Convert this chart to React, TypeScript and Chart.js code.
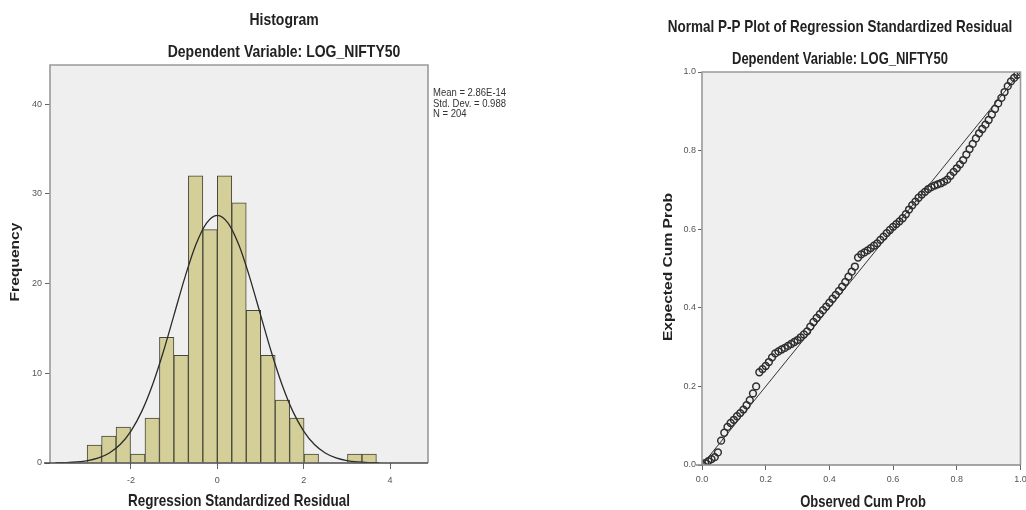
import React, { useEffect, useRef } from "react";
import { Chart, registerables } from "chart.js";

Chart.register(...registerables);

const FONT = "'Liberation Sans', Arial, sans-serif";

// ---------- Histogram data ----------
const BIN_CENTERS = [
  -2.8475, -2.5125, -2.1775, -1.8425, -1.5075, -1.1725, -0.8375, -0.5025, -0.1675,
  0.1675, 0.5025, 0.8375, 1.1725, 1.5075, 1.8425, 2.1775, 3.1825, 3.5175,
];
const BIN_COUNTS = [2, 3, 4, 1, 5, 14, 12, 32, 26, 32, 29, 17, 12, 7, 5, 1, 1, 1];

const CURVE_X = [
  -3.75, -3.5, -3.25, -3.0, -2.75, -2.5, -2.25, -2.0, -1.75, -1.5, -1.25, -1.0, -0.75, -0.5, -0.25,
  0, 0.25, 0.5, 0.75, 1.0, 1.25, 1.5, 1.75, 2.0, 2.25, 2.5, 2.75, 3.0, 3.25, 3.5, 3.75,
];
const CURVE_Y = [
  0.02, 0.05, 0.12, 0.27, 0.57, 1.12, 2.06, 3.56, 5.75, 8.72, 12.4, 16.54, 20.69, 24.28, 26.73,
  27.6, 26.73, 24.28, 20.69, 16.54, 12.4, 8.72, 5.75, 3.56, 2.06, 1.12, 0.57, 0.27, 0.12, 0.05, 0.02,
];

const HIST_X_TICKS = [-2, 0, 2, 4];
const HIST_Y_TICKS = [0, 10, 20, 30, 40];
const STATS_LINES = ["Mean = 2.86E-14", "Std. Dev. = 0.988", "N = 204"];

// ---------- P-P plot data ----------
const PP_OBSERVED = [
  0.0, 0.01, 0.02, 0.03, 0.04, 0.05, 0.06, 0.07, 0.08, 0.09,
  0.1, 0.11, 0.12, 0.13, 0.14, 0.15, 0.16, 0.17, 0.18, 0.19,
  0.2, 0.21, 0.22, 0.23, 0.24, 0.25, 0.26, 0.27, 0.28, 0.29,
  0.3, 0.31, 0.32, 0.33, 0.34, 0.35, 0.36, 0.37, 0.38, 0.39,
  0.4, 0.41, 0.42, 0.43, 0.44, 0.45, 0.46, 0.47, 0.48, 0.49,
  0.5, 0.51, 0.52, 0.53, 0.54, 0.55, 0.56, 0.57, 0.58, 0.59,
  0.6, 0.61, 0.62, 0.63, 0.64, 0.65, 0.66, 0.67, 0.68, 0.69,
  0.7, 0.71, 0.72, 0.73, 0.74, 0.75, 0.76, 0.77, 0.78, 0.79,
  0.8, 0.81, 0.82, 0.83, 0.84, 0.85, 0.86, 0.87, 0.88, 0.89,
  0.9, 0.91, 0.92, 0.93, 0.94, 0.95, 0.96, 0.97, 0.98, 0.99, 1.0,
];
const PP_EXPECTED = [
  0.0, 0.005, 0.01, 0.015, 0.02, 0.032, 0.062, 0.082, 0.097, 0.107,
  0.115, 0.124, 0.132, 0.141, 0.152, 0.165, 0.182, 0.2, 0.236, 0.244,
  0.252, 0.262, 0.274, 0.284, 0.289, 0.294, 0.298, 0.303, 0.308, 0.313,
  0.318, 0.325, 0.332, 0.34, 0.352, 0.364, 0.374, 0.384, 0.394, 0.403,
  0.413, 0.423, 0.433, 0.443, 0.454, 0.466, 0.479, 0.492, 0.505, 0.528,
  0.536, 0.541, 0.546, 0.552, 0.558, 0.564, 0.573, 0.581, 0.59, 0.598,
  0.606, 0.613, 0.62, 0.628, 0.638, 0.65, 0.661, 0.67, 0.68, 0.688,
  0.695, 0.702, 0.707, 0.711, 0.714, 0.717, 0.721, 0.726, 0.736, 0.746,
  0.755, 0.765, 0.776, 0.79, 0.804, 0.817, 0.831, 0.844, 0.855, 0.866,
  0.878, 0.892, 0.906, 0.92, 0.934, 0.949, 0.964, 0.976, 0.985, 0.993, 1.0,
];
const DIAG_X = [0, 1];
const DIAG_Y = [0, 1];
const PP_TICKS = [0, 0.2, 0.4, 0.6, 0.8, 1.0];

type TextItem = {
  text: string;
  x: number;
  y: number;
  size: number;
  bold?: boolean;
  align?: CanvasTextAlign;
  rotate?: boolean;
  color?: string;
};

const STRETCH = 1.2;

function makeDecor(items: TextItem[], bottomColor: string) {
  return {
    id: "decor",
    beforeDraw(chart: any) {
      const { ctx, chartArea } = chart;
      const { left, top, right, bottom } = chartArea;
      ctx.save();
      ctx.fillStyle = "#efefef";
      ctx.fillRect(left, top, right - left, bottom - top);
      ctx.restore();
    },
    afterDraw(chart: any) {
      const { ctx, chartArea } = chart;
      const { left, top, right, bottom } = chartArea;
      ctx.save();
      ctx.strokeStyle = "#9a9a9a";
      ctx.lineWidth = 1.6;
      ctx.beginPath();
      ctx.moveTo(left, bottom);
      ctx.lineTo(left, top);
      ctx.lineTo(right, top);
      ctx.lineTo(right, bottom);
      ctx.stroke();
      ctx.strokeStyle = bottomColor;
      ctx.beginPath();
      ctx.moveTo(left - 6, bottom);
      ctx.lineTo(right, bottom);
      ctx.stroke();
      for (const it of items) {
        ctx.save();
        ctx.font = `${it.bold ? "bold " : ""}${it.size}px ${FONT}`;
        ctx.fillStyle = it.color || "#222";
        ctx.textAlign = it.align || "center";
        ctx.textBaseline = "middle";
        ctx.translate(it.x, it.y);
        if (it.rotate) {
          ctx.rotate(-Math.PI / 2);
          ctx.scale(STRETCH, 1);
        } else {
          ctx.scale(1, STRETCH);
        }
        ctx.fillText(it.text, 0, 0);
        ctx.restore();
      }
      ctx.restore();
    },
  };
}

function HistogramChart() {
  const ref = useRef<HTMLCanvasElement>(null);
  useEffect(() => {
    if (!ref.current) return;
    const items: TextItem[] = [
      { text: "Histogram", x: 284, y: 20, size: 14, bold: true },
      { text: "Dependent Variable: LOG_NIFTY50", x: 284, y: 52, size: 14, bold: true },
      { text: "Regression Standardized Residual", x: 239, y: 502, size: 13.5, bold: true },
      { text: "Frequency", x: 15, y: 262, size: 13, bold: true, rotate: true },
      ...STATS_LINES.map((t, i) => ({
        text: t,
        x: 433,
        y: 93 + i * 10.5,
        size: 9.5,
        align: "left" as CanvasTextAlign,
        color: "#333",
      })),
    ];
    const chart = new Chart(ref.current, {
      type: "bar",
      data: {
        datasets: [
          {
            type: "line",
            data: CURVE_X.map((x, i) => ({ x, y: CURVE_Y[i] })),
            borderColor: "#2b2b2b",
            borderWidth: 1.3,
            pointRadius: 0,
            cubicInterpolationMode: "monotone",
            fill: false,
            order: 0,
          } as any,
          {
            type: "bar",
            data: BIN_CENTERS.map((x, i) => ({ x, y: BIN_COUNTS[i] })),
            backgroundColor: "#d4ce98",
            borderColor: "#46463a",
            borderWidth: 1,
            barPercentage: 1,
            categoryPercentage: 1,
            order: 1,
          } as any,
        ],
      },
      options: {
        animation: false,
        responsive: false,
        maintainAspectRatio: false,
        layout: { padding: { left: 0, top: 65, right: 132, bottom: 0 } },
        plugins: {
          legend: { display: false },
          tooltip: { enabled: false },
          title: { display: false },
        },
        scales: {
          x: {
            type: "linear",
            min: -3.875,
            max: 4.88,
            offset: false,
            afterBuildTicks: (s: any) => {
              s.ticks = HIST_X_TICKS.map((v) => ({ value: v }));
            },
            afterFit: (s: any) => {
              s.height = 47;
              s.paddingLeft = 0;
              s.paddingRight = 0;
            },
            grid: {
              display: true,
              drawOnChartArea: false,
              drawTicks: true,
              tickLength: 6,
              color: "#666",
              offset: false,
            },
            border: { display: false },
            ticks: {
              font: { family: FONT, size: 9 },
              color: "#555",
              padding: 6,
              maxRotation: 0,
              autoSkip: false,
              callback: (v: any) => String(v),
            },
          },
          y: {
            type: "linear",
            min: 0,
            max: 44.35,
            afterBuildTicks: (s: any) => {
              s.ticks = HIST_Y_TICKS.map((v) => ({ value: v }));
            },
            afterFit: (s: any) => {
              s.width = 50;
              s.paddingTop = 0;
              s.paddingBottom = 0;
            },
            grid: {
              display: true,
              drawOnChartArea: false,
              drawTicks: true,
              tickLength: 5,
              color: "#666",
            },
            border: { display: false },
            ticks: {
              font: { family: FONT, size: 9 },
              color: "#555",
              padding: 3,
              autoSkip: false,
              callback: (v: any) => String(v),
            },
          },
        },
      } as any,
      plugins: [makeDecor(items, "#4a4a4a")],
    });
    return () => chart.destroy();
  }, []);
  return <canvas ref={ref} width={560} height={510} style={{ display: "block" }} />;
}

function PPChart() {
  const ref = useRef<HTMLCanvasElement>(null);
  useEffect(() => {
    if (!ref.current) return;
    const items: TextItem[] = [
      { text: "Normal P-P Plot of Regression Standardized Residual", x: 280, y: 28, size: 13.5, bold: true },
      { text: "Dependent Variable: LOG_NIFTY50", x: 280, y: 60, size: 13, bold: true },
      { text: "Observed Cum Prob", x: 303, y: 503, size: 13, bold: true },
      { text: "Expected Cum Prob", x: 108, y: 267, size: 13, bold: true, rotate: true },
    ];
    const chart = new Chart(ref.current, {
      type: "scatter",
      data: {
        datasets: [
          {
            type: "line",
            data: DIAG_X.map((x, i) => ({ x, y: DIAG_Y[i] })),
            borderColor: "#333",
            borderWidth: 1,
            pointRadius: 0,
            fill: false,
            order: 1,
          } as any,
          {
            type: "scatter",
            data: PP_OBSERVED.map((x, i) => ({ x, y: PP_EXPECTED[i] })),
            pointRadius: 3.4,
            pointBorderWidth: 1.5,
            pointBorderColor: "#2e2e2e",
            pointBackgroundColor: "rgba(0,0,0,0)",
            showLine: false,
            order: 0,
          } as any,
        ],
      },
      options: {
        animation: false,
        responsive: false,
        maintainAspectRatio: false,
        layout: { padding: { left: 0, top: 72, right: 1, bottom: 0 } },
        plugins: {
          legend: { display: false },
          tooltip: { enabled: false },
          title: { display: false },
        },
        scales: {
          x: {
            type: "linear",
            min: 0,
            max: 1,
            afterBuildTicks: (s: any) => {
              s.ticks = PP_TICKS.map((v) => ({ value: v }));
            },
            afterFit: (s: any) => {
              s.height = 45;
              s.paddingLeft = 0;
              s.paddingRight = 0;
            },
            grid: {
              display: true,
              drawOnChartArea: false,
              drawTicks: true,
              tickLength: 5,
              color: "#666",
            },
            border: { display: false },
            ticks: {
              font: { family: FONT, size: 9 },
              color: "#555",
              padding: 4,
              maxRotation: 0,
              autoSkip: false,
              callback: (v: any) => Number(v).toFixed(1),
            },
          },
          y: {
            type: "linear",
            min: 0,
            max: 1,
            afterBuildTicks: (s: any) => {
              s.ticks = PP_TICKS.map((v) => ({ value: v }));
            },
            afterFit: (s: any) => {
              s.width = 142;
              s.paddingTop = 0;
              s.paddingBottom = 0;
            },
            grid: {
              display: true,
              drawOnChartArea: false,
              drawTicks: true,
              tickLength: 4,
              color: "#666",
            },
            border: { display: false },
            ticks: {
              font: { family: FONT, size: 9 },
              color: "#555",
              padding: 2,
              autoSkip: false,
              callback: (v: any) => Number(v).toFixed(1),
            },
          },
        },
      } as any,
      plugins: [makeDecor(items, "#8a8a8a")],
    });
    return () => chart.destroy();
  }, []);
  return <canvas ref={ref} width={466} height={510} style={{ display: "block" }} />;
}

export default function App() {
  return (
    <div
      style={{
        position: "fixed",
        left: 0,
        top: 0,
        width: 1026,
        height: 510,
        background: "#ffffff",
        overflow: "hidden",
      }}
    >
      <div style={{ position: "absolute", left: 0, top: 0 }}>
        <HistogramChart />
      </div>
      <div style={{ position: "absolute", left: 560, top: 0 }}>
        <PPChart />
      </div>
    </div>
  );
}
